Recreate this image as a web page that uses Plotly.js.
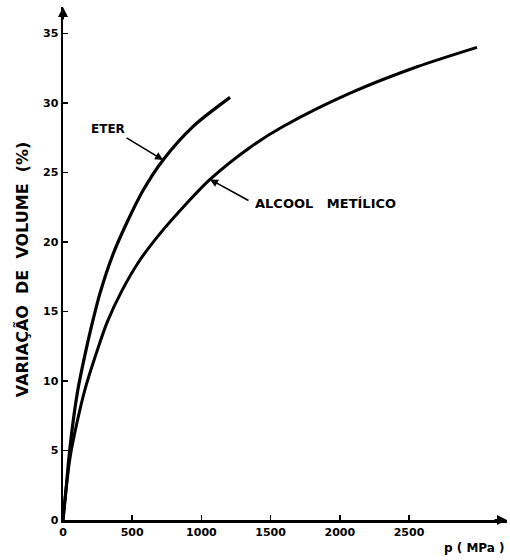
<!DOCTYPE html>
<html>
<head>
<meta charset="utf-8">
<script src="https://cdn.plot.ly/plotly-3.0.1.min.js"></script>
<style>html,body{margin:0;padding:0;background:#fff;}#chart{width:510px;height:560px;}</style>
</head>
<body>
<div id="chart"></div>
<script>
// Data
var eterP = [0, 22, 43, 72, 108, 159, 210, 267, 361, 462, 578, 723, 939, 1207];
var eterV = [0, 2.2, 4.5, 7.0, 9.4, 11.9, 14.1, 16.3, 19.1, 21.4, 23.7, 25.9, 28.3, 30.4];
var alcoolP = [0, 22, 51, 101, 159, 231, 318, 426, 556, 701, 896, 1062, 1351, 1590, 2074, 2558, 2991];
var alcoolV = [0, 2.2, 4.5, 7.0, 9.4, 11.7, 14.2, 16.5, 18.7, 20.6, 22.8, 24.5, 26.8, 28.3, 30.7, 32.6, 34.0];
var xTicks = [0, 500, 1000, 1500, 2000, 2500];
var yTicks = [0, 5, 10, 15, 20, 25, 30, 35];
var eterLabel = "ETER";
var alcoolLabel = "ALCOOL   METÍLICO";
var yTitle = "VARIAÇÃO  DE  VOLUME  (%)";
var xTitle = "p ( MPa )";

var font = "DejaVu Sans, sans-serif";
var data = [
  {x: eterP, y: eterV, mode: "lines", line: {color: "#000", width: 3.2, shape: "spline", smoothing: 0.8}, hoverinfo: "skip"},
  {x: alcoolP, y: alcoolV, mode: "lines", line: {color: "#000", width: 3, shape: "spline", smoothing: 0.8}, hoverinfo: "skip"}
];

var layout = {
  width: 510, height: 560,
  margin: {l: 63, r: 3, t: 7, b: 40},
  paper_bgcolor: "#fff", plot_bgcolor: "#fff",
  showlegend: false,
  font: {family: font, color: "#000"},
  xaxis: {
    range: [0, 3208], tickvals: xTicks, ticktext: xTicks.map(String),
    ticks: "inside", ticklen: 5, tickwidth: 1.5, tickcolor: "#000",
    showline: true, linewidth: 2.5, linecolor: "#000",
    showgrid: false, zeroline: false,
    tickfont: {family: font, size: 11, color: "#000", weight: "bold"}
  },
  yaxis: {
    range: [0, 36.9], tickvals: yTicks, ticktext: yTicks.map(String),
    ticks: "inside", ticklen: 5, tickwidth: 1.5, tickcolor: "#000",
    showline: true, linewidth: 2.5, linecolor: "#000",
    showgrid: false, zeroline: false,
    tickfont: {family: font, size: 11, color: "#000", weight: "bold"}
  },
  annotations: [
    {x: 723, y: 25.9, ax: -38, ay: -23, text: "", showarrow: true, arrowhead: 2, arrowsize: 1, arrowwidth: 1.6, arrowcolor: "#000"},
    {x: 1062, y: 24.5, ax: 40, ay: 22, text: "", showarrow: true, arrowhead: 2, arrowsize: 1, arrowwidth: 1.6, arrowcolor: "#000"},
    {x: 325, y: 28.1, text: eterLabel, showarrow: false, xanchor: "center", yanchor: "middle", font: {family: font, size: 12, color: "#000", weight: "bold"}},
    {x: 1373, y: 22.8, text: alcoolLabel, showarrow: false, xanchor: "left", yanchor: "middle", font: {family: font, size: 13, color: "#000", weight: "bold"}},
    {xref: "paper", yref: "paper", x: 0, y: 0.489, xshift: -41, text: yTitle, textangle: -90, showarrow: false, xanchor: "center", yanchor: "middle", font: {family: font, size: 16, color: "#000", weight: "bold"}},
    {xref: "paper", yref: "paper", x: 1, y: 0, yshift: -28, text: xTitle, showarrow: false, xanchor: "right", yanchor: "middle", font: {family: font, size: 12, color: "#000", weight: "bold"}},
    {xref: "paper", yref: "paper", x: 1, y: 0, ax: -14, ay: 0, text: "", showarrow: true, arrowhead: 2, arrowsize: 1, arrowwidth: 2, arrowcolor: "#000"},
    {xref: "paper", yref: "paper", x: 0, y: 1, ax: 0, ay: 14, text: "", showarrow: true, arrowhead: 2, arrowsize: 1, arrowwidth: 2, arrowcolor: "#000"}
  ]
};

Plotly.newPlot("chart", data, layout, {staticPlot: true, displayModeBar: false});
</script>
</body>
</html>
